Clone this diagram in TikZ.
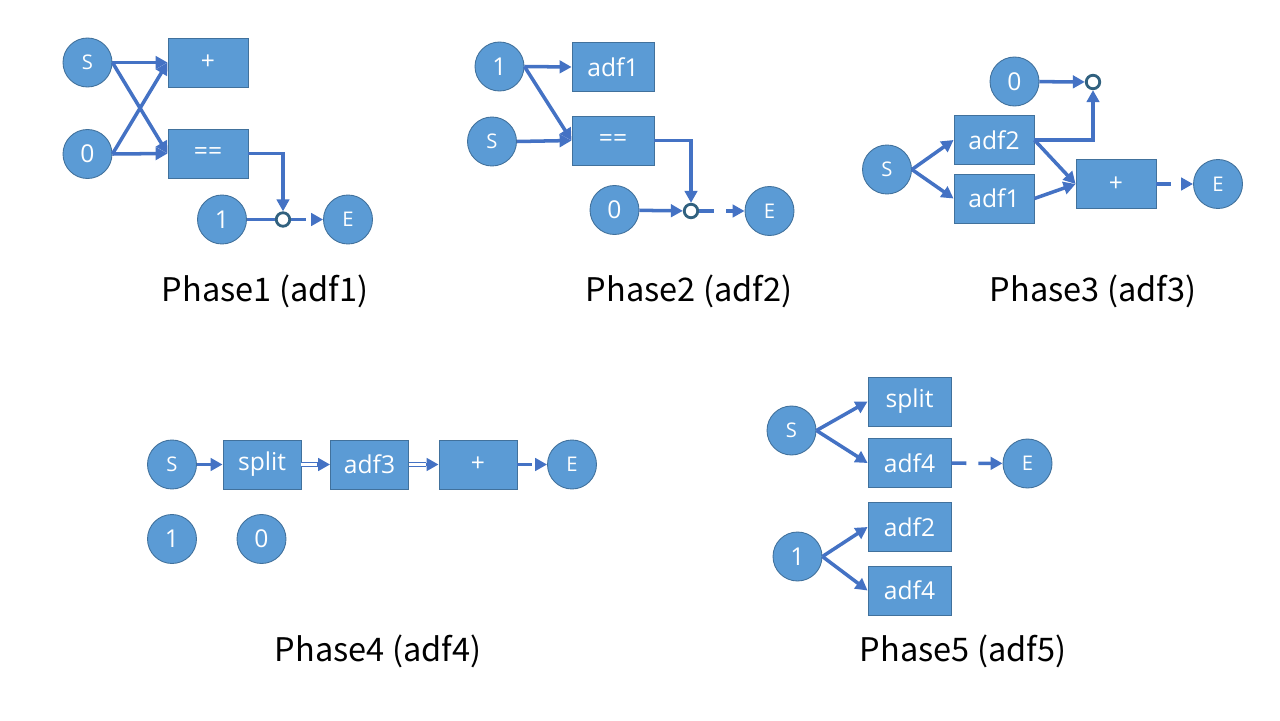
\documentclass[tikz,border=0pt]{standalone}
\usepackage{fontspec}
\setmainfont{Open Sans}
\newfontfamily\jpfont{Noto Sans CJK JP}
\usetikzlibrary{arrows.meta}

\definecolor{nodeblue}{HTML}{5B9BD5}
\definecolor{nodeedge}{HTML}{41719C}
\definecolor{lineblue}{HTML}{4472C4}
\definecolor{ringcol}{HTML}{31617F}

\begin{document}
\begin{tikzpicture}[x=0.02cm, y=-0.02cm,
	val/.style={circle, fill=nodeblue, draw=nodeedge, line width=0.5pt, text=white,
		minimum size=0.98cm, inner sep=0pt, font=\fontsize{14}{16}\selectfont},
	term/.style={val, font=\fontsize{11.5}{13}\selectfont},
	op/.style={rectangle, fill=nodeblue, draw=nodeedge, line width=0.5pt, text=white,
		minimum width=1.6cm, minimum height=0.98cm, inner sep=0pt, font=\fontsize{14}{16}\selectfont},
	jn/.style={circle, fill=white, draw=ringcol, line width=1.6pt, minimum size=0.27cm, inner sep=0pt},
	link/.style={draw=lineblue, line width=2pt},
	flow/.style={link, -{Triangle[length=0.24cm,width=0.25cm]}},
	dashflow/.style={flow, dash pattern=on 0.3cm off 0.24cm},
	dbl/.style={draw=lineblue, line width=0.7pt, double=white, double distance=0.05cm},
	phase/.style={anchor=base, font=\jpfont\fontsize{18.5}{20}\selectfont}]

	\useasboundingbox [fill=white] (0,0) rectangle (1280,720);

	% phase 1
	\node [term] (s1) at (87.5,62.5) {S};
	\node [val] (z1) at (87.5,154) {0};
	\node [op] (add1) at (208,62.5) {+};
	\node [op] (eq1) at (208,153.5) {==};
	\node [val] (one1) at (222,219.5) {1};
	\node [jn] (j1) at (283,219.5) {};
	\node [term] (e1) at (348,219.5) {E};
	\draw [flow] (s1.east) -- (add1.west);
	\draw [flow] (s1.east) -- (eq1.west);
	\draw [flow] (z1.east) -- (add1.west);
	\draw [flow] (z1.east) -- (eq1.west);
	\draw [flow] (eq1.east) -| (j1.north);
	\draw [link] (one1) -- (j1);
	\draw [dashflow] (j1) -- (e1);
	\node [phase] (lab1) at (265,301) {Phase1 (adf1)};

	% phase 2
	\node [val] (one2) at (499.5,66.5) {1};
	\node [op, minimum width=1.64cm] (adf1b) at (613,67) {adf1};
	\node [term] (s2) at (492,141.5) {S};
	\node [op, minimum width=1.64cm] (eq2) at (613,140.5) {==};
	\node [val] (z2) at (614.5,210) {0};
	\node [jn] (j2) at (691,211) {};
	\node [term] (e2) at (769.5,211) {E};
	\draw [flow] (one2.east) -- (adf1b.west);
	\draw [flow] (one2.east) -- (eq2.west);
	\draw [flow] (s2.east) -- (eq2.west);
	\draw [flow] (eq2.east) -| (j2.north);
	\draw [flow] (z2) -- (j2);
	\draw [dashflow] (j2) -- (e2);
	\node [phase] (lab2) at (689,301) {Phase2 (adf2)};

	% phase 3
	\node [val] (z3) at (1014.5,81.5) {0};
	\node [jn] (j3) at (1093,82) {};
	\node [op] (adf2c) at (994,140) {adf2};
	\node [op] (adf1c) at (994,198.5) {adf1};
	\node [term] (s3) at (887,169.5) {S};
	\node [op] (add3) at (1116,184) {+};
	\node [term] (e3) at (1218,184) {E};
	\draw [flow] (z3) -- (j3);
	\draw [flow] (adf2c.east) -| (j3.south);
	\draw [flow] (s3.east) -- (adf2c.west);
	\draw [flow] (s3.east) -- (adf1c.west);
	\draw [flow] (adf2c.east) -- (add3.west);
	\draw [flow] (adf1c.east) -- (add3.west);
	\draw [dashflow] (add3) -- (e3);
	\node [phase] (lab3) at (1093,301) {Phase3 (adf3)};

	% phase 4
	\node [term] (s4) at (172,464.5) {S};
	\node [op, minimum width=1.56cm] (split4) at (262,464.5) {split};
	\node [op, minimum width=1.56cm] (adf3d) at (369.5,464.5) {adf3};
	\node [op, minimum width=1.56cm] (add4) at (478,464.5) {+};
	\node [term] (e4) at (572,464.5) {E};
	\node [val] (one4) at (172,539) {1};
	\node [val] (z4) at (261.5,539) {0};
	\draw [flow] (s4) -- (split4);
	\draw [dbl] (split4.east) -- ([xshift=-0.25cm]adf3d.west);
	\draw [flow] ([xshift=-0.26cm]adf3d.west) -- (adf3d.west);
	\draw [dbl] (adf3d.east) -- ([xshift=-0.25cm]add4.west);
	\draw [flow] ([xshift=-0.26cm]add4.west) -- (add4.west);
	\draw [dashflow] (add4) -- (e4);
	\node [phase] (lab4) at (378,661) {Phase4 (adf4)};

	% phase 5
	\node [term] (s5) at (791.5,430.5) {S};
	\node [op, minimum width=1.66cm] (split5) at (909.5,401.5) {split};
	\node [op, minimum width=1.66cm] (adf4e) at (909.5,463) {adf4};
	\node [term] (e5) at (1027.5,463.5) {E};
	\node [val] (one5) at (797.5,556.5) {1};
	\node [op, minimum width=1.66cm] (adf2e) at (909.5,527) {adf2};
	\node [op, minimum width=1.66cm] (adf4f) at (909.5,590.5) {adf4};
	\draw [flow] (s5.east) -- (split5.west);
	\draw [flow] (s5.east) -- (adf4e.west);
	\draw [dashflow] (adf4e) -- (e5);
	\draw [flow] (one5.east) -- (adf2e.west);
	\draw [flow] (one5.east) -- (adf4f.west);
	\node [phase] (lab5) at (963,661) {Phase5 (adf5)};

\end{tikzpicture}
\end{document}
